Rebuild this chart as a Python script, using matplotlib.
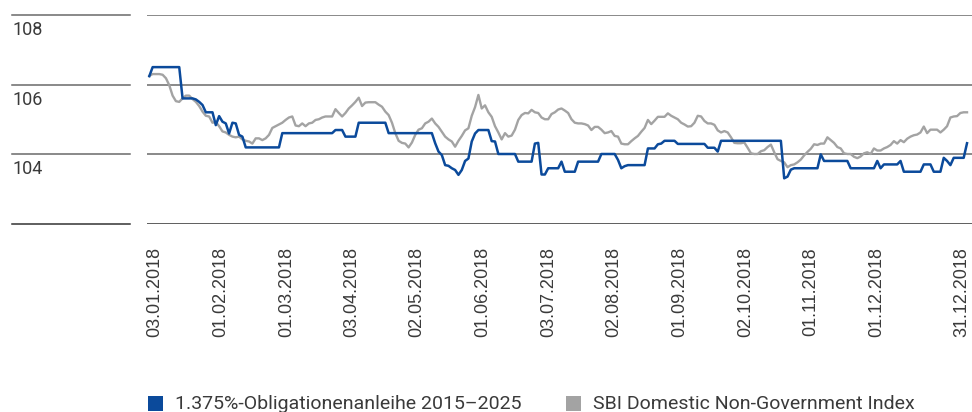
import numpy as np
import matplotlib.pyplot as plt
from matplotlib.patches import Rectangle
from matplotlib import transforms

# daily closing values (trading days, 03.01.2018 - 31.12.2018)
bond = [106.24,
        106.50, 106.50, 106.50, 106.50, 106.50, 106.50, 106.50, 106.50, 106.50,
        105.60, 105.60, 105.60, 105.60, 105.57, 105.50, 105.41, 105.20, 105.20, 105.20,
        104.83, 105.09, 104.93, 104.88, 104.59, 104.90, 104.88, 104.55, 104.50,
        104.19, 104.19, 104.19, 104.19, 104.19, 104.19, 104.19, 104.19, 104.19, 104.19, 104.19,
        104.60, 104.60, 104.60, 104.60, 104.60, 104.60, 104.60, 104.60,
        104.60, 104.60, 104.60, 104.60, 104.60, 104.60, 104.60, 104.60,
        104.69, 104.69, 104.69, 104.50, 104.50, 104.50, 104.50,
        104.90, 104.90, 104.90, 104.90, 104.90, 104.90, 104.90, 104.90, 104.90,
        104.60, 104.60, 104.60, 104.60, 104.60, 104.60, 104.60,
        104.60, 104.60, 104.60, 104.60, 104.60, 104.60, 104.60,
        104.31, 104.07, 103.97, 103.68, 103.66, 103.59, 103.54, 103.40, 103.54, 103.80,
        103.87, 104.36, 104.59, 104.69, 104.69, 104.69, 104.69, 104.37, 104.36,
        104.00, 104.00, 104.00, 104.00, 104.00, 104.00,
        103.78, 103.78, 103.78, 103.78, 103.78, 104.30, 104.32, 103.41, 103.41,
        103.59, 103.59, 103.59, 103.59, 103.78, 103.49, 103.49, 103.49, 103.49,
        103.78, 103.78, 103.78, 103.78, 103.78, 103.78, 103.78,
        104.00, 104.00, 104.00, 104.00, 104.00, 103.83, 103.59, 103.65,
        103.68, 103.68, 103.68, 103.68, 103.68, 103.68,
        104.16, 104.16, 104.16, 104.28, 104.30, 104.38, 104.38, 104.38, 104.38,
        104.29, 104.29, 104.29, 104.29, 104.29, 104.29, 104.29, 104.29, 104.29,
        104.18, 104.18, 104.18, 104.07,
        104.38, 104.38, 104.38, 104.38, 104.38, 104.38, 104.38, 104.38, 104.38, 104.38,
        104.38, 104.38, 104.38, 104.38, 104.38, 104.38, 104.38, 104.38, 104.38,
        103.30, 103.35, 103.55,
        103.59, 103.59, 103.59, 103.59, 103.59, 103.59, 103.59, 103.59, 103.99,
        103.80, 103.80, 103.80, 103.80, 103.80, 103.80, 103.80, 103.80,
        103.59, 103.59, 103.59, 103.59, 103.59, 103.59, 103.59, 103.59, 103.80, 103.59,
        103.70, 103.70, 103.70, 103.70, 103.70, 103.80,
        103.49, 103.49, 103.49, 103.49, 103.49, 103.49, 103.70, 103.70, 103.70,
        103.49, 103.49, 103.49, 103.89, 103.80, 103.68,
        103.89, 103.89, 103.89, 103.89, 104.31]

sbi = [106.25, 106.30, 106.30, 106.30, 106.28, 106.18, 105.98, 105.68, 105.52, 105.50,
       105.60, 105.68, 105.68, 105.58, 105.50, 105.38, 105.22, 105.10, 105.08, 104.90,
       104.92, 104.80, 104.65, 104.62, 104.55, 104.50, 104.48, 104.50, 104.42, 104.38,
       104.36, 104.30, 104.45, 104.45, 104.40, 104.45, 104.55, 104.75, 104.80, 104.85,
       104.90, 104.98, 105.05, 105.08, 104.82, 104.80, 104.88, 104.80, 104.88, 104.90,
       104.98, 105.00, 105.05, 105.08, 105.08, 105.08, 105.29, 105.18, 105.08, 105.18,
       105.31, 105.40, 105.50, 105.62, 105.38, 105.48, 105.49, 105.49, 105.49, 105.42,
       105.36, 105.22, 105.12, 104.90, 104.60, 104.38, 104.32, 104.30, 104.19, 104.33,
       104.55, 104.70, 104.74, 104.88, 104.93, 105.02, 104.88, 104.78, 104.64, 104.50,
       104.42, 104.36, 104.21, 104.38, 104.52, 104.68, 104.74, 105.10, 105.35, 105.70,
       105.31, 105.40, 105.20, 105.07, 104.80, 104.62, 104.42, 104.60, 104.50, 104.53,
       104.70, 104.98, 105.12, 105.18, 105.17, 105.27, 105.20, 105.18, 105.05, 105.00,
       105.00, 105.15, 105.20, 105.28, 105.31, 105.25, 105.18, 105.00, 104.90, 104.88,
       104.88, 104.86, 104.82, 104.69, 104.78, 104.78, 104.70, 104.60, 104.62, 104.66,
       104.52, 104.50, 104.30, 104.28, 104.28, 104.37, 104.45, 104.52, 104.64, 104.75,
       104.98, 104.86, 104.96, 105.07, 105.07, 105.07, 105.17, 105.10, 105.05, 105.00,
       104.90, 104.85, 104.79, 104.80, 104.90, 105.10, 105.08, 104.95, 104.88, 104.88,
       104.84, 104.68, 104.62, 104.66, 104.62, 104.48, 104.32, 104.31, 104.31, 104.33,
       104.18, 104.02, 104.00, 104.00, 104.08, 104.11, 104.20, 104.27, 104.05, 103.85,
       103.80, 103.76, 103.62, 103.68, 103.70, 103.76, 103.84, 103.96, 104.06, 104.15,
       104.28, 104.26, 104.30, 104.30, 104.48, 104.40, 104.32, 104.20, 104.16, 104.02,
       104.00, 104.00, 103.92, 103.88, 103.93, 104.02, 104.05, 104.00, 104.16, 104.10,
       104.10, 104.16, 104.20, 104.26, 104.37, 104.30, 104.40, 104.34, 104.44, 104.50,
       104.54, 104.56, 104.62, 104.79, 104.60, 104.70, 104.70, 104.70, 104.62, 104.70,
       104.80, 105.05, 105.08, 105.09, 105.18, 105.20, 105.20]

date_labels = ['03.01.2018', '01.02.2018', '01.03.2018', '03.04.2018', '02.05.2018',
               '01.06.2018', '03.07.2018', '02.08.2018', '01.09.2018', '02.10.2018',
               '01.11.2018', '01.12.2018', '31.12.2018']
y_levels = [102, 104, 106, 108]
series_names = ['1.375%-Obligationenanleihe 2015\u20132025', 'SBI Domestic Non-Government Index']

BLUE = '#0b4a9b'
GRAY = '#a3a3a3'
TXT = '#3a3a3a'

W, H = 972, 412
fig = plt.figure(figsize=(W / 100, H / 100), dpi=100)
ax = fig.add_axes([147 / W, (H - 223.5) / H, 825 / W, (223.5 - 15) / H])

ax.plot(np.arange(len(sbi)), sbi, color=GRAY, lw=1.7, solid_joinstyle='round', zorder=3)
ax.plot(np.arange(len(bond)), bond, color=BLUE, lw=1.8, solid_joinstyle='round', zorder=4)

ax.set_ylim(102, 108)
ax.set_xlim(-0.7, 247.5)

for v in y_levels:
    c = '#333333' if v == y_levels[0] else '#6a6a6a'
    ax.axhline(v, color=c, lw=1.1, zorder=1)

# short gridline stubs + labels in the left column
tr = transforms.blended_transform_factory(fig.transFigure, ax.transData)
for v in y_levels:
    c = '#333333' if v == y_levels[0] else '#6a6a6a'
    ax.plot([12 / W, 130 / W], [v, v], transform=tr, color=c, lw=1.1, clip_on=False)
    if v > y_levels[0]:
        ax.annotate(str(v), xy=(12 / W, v), xycoords=tr, xytext=(0, -4.5),
                    textcoords='offset points', ha='left', va='top',
                    fontsize=13, family='Roboto', color=TXT)

# category ticks every ~20 trading days, last one on year end
tick_pos = [1.7, 21.4, 41.2, 60.9, 80.6, 100.4, 120.1, 139.8, 159.5, 179.3, 199.0, 218.7, 244.5]
ax.set_xticks(tick_pos)
ax.set_xticklabels(date_labels, rotation=90, fontsize=13, family='Liberation Sans', color=TXT)
ax.tick_params(axis='x', length=0, pad=17)
ax.set_yticks([])
for s in ax.spines.values():
    s.set_visible(False)

# legend
for xp, col, name in [(148, BLUE, series_names[0]), (566, GRAY, series_names[1])]:
    fig.patches.append(Rectangle((xp / W, 1 / H), 15 / W, 15 / H, transform=fig.transFigure,
                                 color=col, lw=0))
    fig.text((xp + 27) / W, 8 / H, name, ha='left', va='center', fontsize=14,
             family='Roboto', color=TXT)

fig.savefig('out.png', dpi=100)
